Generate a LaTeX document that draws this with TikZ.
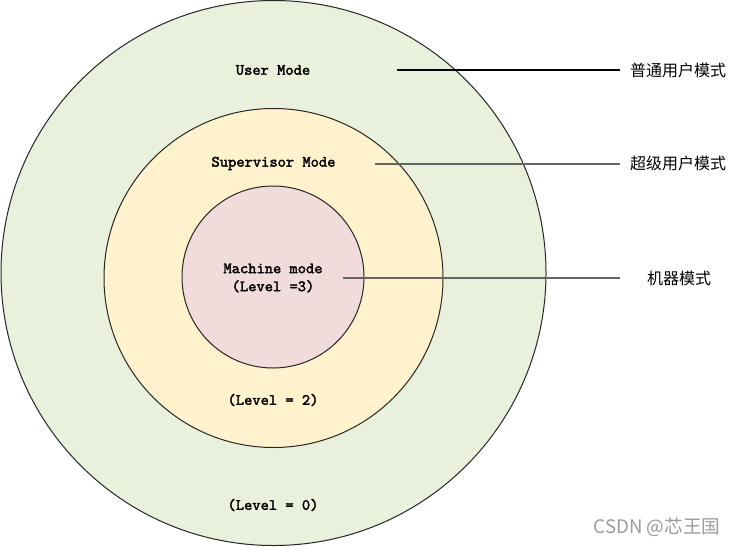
\documentclass[tikz,border=0pt]{standalone}
\usepackage{fontspec}
\newfontfamily\cjk{Noto Sans CJK SC}
\newfontfamily\modefont[FakeBold=2.2]{lmmono10-regular.otf}
\definecolor{usergreen}{RGB}{233,240,220}
\definecolor{supyellow}{RGB}{255,242,204}
\definecolor{machred}{RGB}{242,220,219}
\definecolor{leadgray}{RGB}{100,100,100}
\definecolor{markgray}{RGB}{155,155,155}
\begin{document}
\begin{tikzpicture}[x=0.75pt, y=-0.75pt,
    ring/.style={circle, draw=black!85, line width=0.75pt, inner sep=0pt},
    modetext/.style={font=\modefont\fontsize{11.8}{13.5}\selectfont, align=center, inner sep=0pt},
    cntext/.style={font=\cjk\fontsize{12}{14}\selectfont, inner sep=0pt}]
    \useasboundingbox (0, 0) rectangle (737, 546);
    % rings
    \node[ring, fill=usergreen, minimum size=408.75pt] (userring) at (273.5, 273) {};
    \node[ring, fill=supyellow, minimum size=254.25pt] (supring) at (273.5, 278) {};
    \node[ring, fill=machred, minimum size=136.5pt] (machring) at (273, 277) {};
    % mode texts
    \node[modetext] (usermode) at (273, 70) {User Mode};
    \node[modetext] (supmode) at (273.5, 163.5) {Supervisor Mode};
    \node[modetext] (machmode) at (273, 278) {Machine mode\\(Level =3)};
    \node[modetext] (suplevel) at (273, 400) {(Level = 2)};
    \node[modetext] (userlevel) at (273, 505) {(Level = 0)};
    % chinese labels
    \node[cntext] (userlbl) at (678, 70) {普通用户模式};
    \node[cntext] (suplbl) at (678, 163) {超级用户模式};
    \node[cntext] (machlbl) at (679, 278) {机器模式};
    \coordinate (userfrom) at (397, 70);
    \coordinate (userto) at (620, 70);
    \coordinate (supfrom) at (375, 164);
    \coordinate (supto) at (620, 164);
    \coordinate (machfrom) at (343, 278);
    \coordinate (machto) at (620, 278);
    \draw[line width=0.8pt] (userfrom) -- (userto);
    \draw[line width=0.9pt, leadgray] (supfrom) -- (supto);
    \draw[line width=0.9pt, leadgray] (machfrom) -- (machto);
    \node[font=\cjk\fontsize{14}{16}\selectfont, text=markgray, inner sep=0pt] (mark) at (657, 527) {CSDN @芯王国};
\end{tikzpicture}
\end{document}
